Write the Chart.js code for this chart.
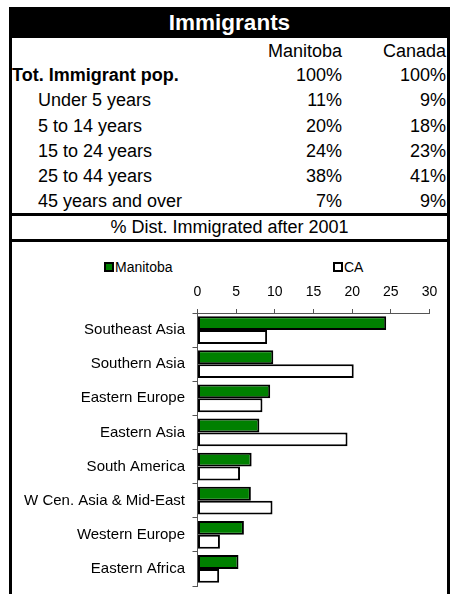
<!DOCTYPE html>
<html><head><meta charset="utf-8">
<script src="https://cdn.jsdelivr.net/npm/chart.js@4.4.1/dist/chart.umd.min.js"></script>
<style>
html,body{margin:0;padding:0;background:#fff;width:454px;height:594px;overflow:hidden;font-family:"Liberation Sans",Arial,sans-serif;}
#wrap{position:relative;width:454px;height:594px;}
.abs{position:absolute;white-space:nowrap;line-height:20px;font-size:18px;color:#000;}
.blk{position:absolute;background:#000;}
.sq{position:absolute;width:6px;height:6px;border:2px solid #000;}
</style></head><body>
<div id="wrap">
  <div class="blk" style="left:9px;top:7px;width:441px;height:31px;"></div>
  <div class="abs" id="title" style="left:9px;top:8px;width:441px;text-align:center;color:#fff;font-weight:bold;font-size:22.5px;line-height:30px;"></div>
  <div class="blk" style="left:9px;top:7px;width:3px;height:587px;"></div>
  <div class="blk" style="left:447px;top:7px;width:3px;height:587px;"></div>
  <div class="blk" style="left:9px;top:213px;width:441px;height:3px;"></div>
  <div class="blk" style="left:9px;top:239px;width:441px;height:3px;"></div>
  <div id="rows"></div>
  <div class="abs" id="subtitle" style="left:9px;top:217px;width:441px;text-align:center;"></div>
  <div class="sq" style="left:104px;top:262px;background:#008000;"></div>
  <div class="abs" id="lg0" style="left:115px;top:259px;font-size:14px;line-height:16px;"></div>
  <div class="sq" style="left:333px;top:262px;background:#fff;"></div>
  <div class="abs" id="lg1" style="left:344px;top:259px;font-size:14px;line-height:16px;"></div>
  <canvas id="c" width="435" height="353" style="position:absolute;left:12px;top:241px;width:435px;height:353px;"></canvas>
</div>
<script>
const chartTitle = 'Immigrants';
const columnHeaders = ['Manitoba', 'Canada'];
const tableLabels = ['Tot. Immigrant pop.', 'Under 5 years', '5 to 14 years', '15 to 24 years', '25 to 44 years', '45 years and over'];
const tableManitoba = ['100%', '11%', '20%', '24%', '38%', '7%'];
const tableCanada = ['100%', '9%', '18%', '23%', '41%', '9%'];
const subTitle = '% Dist. Immigrated after 2001';

const categories = ['Southeast Asia', 'Southern Asia', 'Eastern Europe', 'Eastern Asia', 'South America', 'W Cen. Asia & Mid-East', 'Western Europe', 'Eastern Africa'];
const seriesNames = ['Manitoba', 'CA'];
const manitobaValues = [24.4, 9.8, 9.4, 8.0, 7.0, 6.9, 6.0, 5.3];
const canadaValues = [9.0, 20.2, 8.4, 19.4, 5.5, 9.7, 2.9, 2.8];
const xMin = 0, xMax = 30, xStep = 5;

const FONT = '"Liberation Sans", Arial, sans-serif';
document.getElementById('title').textContent = chartTitle;
document.getElementById('subtitle').textContent = subTitle;
document.getElementById('lg0').textContent = seriesNames[0];
document.getElementById('lg1').textContent = seriesNames[1];

const rows = document.getElementById('rows');
const rowCenters = [51, 75.5, 100.5, 126, 151, 176.5, 201.5];
function addText(txt, y, opts) {
  const d = document.createElement('div');
  d.className = 'abs';
  d.textContent = txt;
  d.style.top = (y - 10.3) + 'px';
  Object.assign(d.style, opts);
  rows.appendChild(d);
}
addText(columnHeaders[0], rowCenters[0], {right: (454 - 342) + 'px'});
addText(columnHeaders[1], rowCenters[0], {right: (454 - 446) + 'px'});
tableLabels.forEach((lab, i) => {
  const y = rowCenters[i + 1];
  addText(lab, y, i === 0 ? {left: '12px', fontWeight: 'bold'} : {left: '38px'});
  addText(tableManitoba[i], y, {right: (454 - 342) + 'px'});
  addText(tableCanada[i], y, {right: (454 - 446) + 'px'});
});

new Chart(document.getElementById('c').getContext('2d'), {
  type: 'bar',
  data: {
    labels: categories,
    datasets: [
      {label: seriesNames[0], data: manitobaValues, backgroundColor: '#008000', borderColor: '#000', borderWidth: 2, borderSkipped: false, categoryPercentage: 0.81, barPercentage: 1.0},
      {label: seriesNames[1], data: canadaValues, backgroundColor: '#ffffff', borderColor: '#000', borderWidth: 2, borderSkipped: false, categoryPercentage: 0.81, barPercentage: 1.0}
    ]
  },
  options: {
    indexAxis: 'y',
    responsive: false,
    animation: false,
    devicePixelRatio: 1,
    layout: {padding: {top: 42, right: 17.5, bottom: 8, left: 0}},
    plugins: {legend: {display: false}, tooltip: {enabled: false}},
    scales: {
      x: {
        position: 'top', min: xMin, max: xMax,
        ticks: {stepSize: xStep, padding: 8, color: '#000', font: {size: 14, family: FONT}},
        grid: {drawOnChartArea: false, tickLength: 4, color: '#555'},
        border: {color: '#555', width: 1},
        afterFit(s) { s.height = 30; }
      },
      y: {
        ticks: {padding: 7.5, color: '#000', font: {size: 15, family: FONT}},
        grid: {drawOnChartArea: false, tickLength: 5, color: '#555', offset: true},
        border: {color: '#555', width: 1},
        afterFit(s) { s.width = 185.5; s.paddingTop = 0; s.paddingBottom = 0; }
      }
    }
  }
});
</script>
</body></html>
